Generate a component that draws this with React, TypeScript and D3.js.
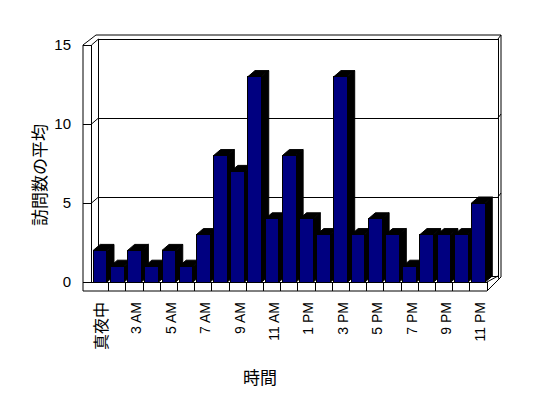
import React from 'react';
import * as d3 from 'd3';

// 時間帯 (2 AM はデータなし)
const hours = [
  '真夜中', '1 AM', '3 AM', '4 AM', '5 AM', '6 AM', '7 AM', '8 AM', '9 AM', '10 AM', '11 AM', '12 PM',
  '1 PM', '2 PM', '3 PM', '4 PM', '5 PM', '6 PM', '7 PM', '8 PM', '9 PM', '10 PM', '11 PM',
];
const visits = [2, 1, 2, 1, 2, 1, 3, 8, 7, 13, 4, 8, 4, 3, 13, 3, 4, 3, 1, 3, 3, 3, 5];
const yTicks = [0, 5, 10, 15];

const W = 548, H = 398;
const front = { left: 91.5, right: 487, base: 282 };
const back = { left: 98.5, right: 498, base: 276, top: 39 };
const barDepth = { dx: 7, dy: -6 };

export default function App() {
  const x = d3.scaleBand<string>()
    .domain(hours)
    .range([front.left, front.right])
    .paddingInner(0.2)
    .paddingOuter(0.1);
  const step = x.step();
  const yF = d3.scaleLinear().domain([0, 15]).range([front.base, front.base - 15 * 15.8]);
  const yB = d3.scaleLinear().domain([0, 15]).range([back.base, back.top]);

  const labelFont = '"Liberation Sans", Arial, sans-serif';
  const jpFont = '"Noto Sans CJK JP", sans-serif';
  const isJp = (s: string) => /[^\x00-\x7f]/.test(s);

  const frontTop = yF(15);
  const outline = [
    [83, frontTop], [96, 35], [501, 35], [501, 277], [499, 279], [487, 291], [83, 291],
  ].map(p => p.join(',')).join(' ');

  return (
    <>
      <style>{`body{margin:0}`}</style>
      <svg width={W} height={H} style={{ display: 'block', background: '#fff' }}>
        <g stroke="#000" strokeWidth={1}>
          {/* walls */}
          <polygon points={outline} fill="#fff" />
          <rect x={back.left} y={back.top} width={back.right - back.left} height={back.base - back.top}
            fill="#fff" shapeRendering="crispEdges" />
          <line x1={front.left} y1={frontTop} x2={front.left} y2={front.base} shapeRendering="crispEdges" />
          <line x1={front.left} y1={frontTop} x2={back.left} y2={back.top} />
          <line x1={back.right} y1={back.top} x2={501} y2={35} />
          <line x1={front.left} y1={front.base} x2={front.right} y2={front.base} shapeRendering="crispEdges" />
          <line x1={front.right} y1={front.base} x2={back.right} y2={back.base} />
          <line x1={front.right} y1={front.base} x2={front.right} y2={291} shapeRendering="crispEdges" />
          <line x1={back.right} y1={back.base} x2={499} y2={279} />
          {hours.slice(1).map((h, i) => {
            const xx = front.left + (i + 1) * step;
            return <line key={h} x1={xx} y1={front.base} x2={xx} y2={291} shapeRendering="crispEdges" />;
          })}

          {/* grid + ticks */}
          {yTicks.map(t => (
            <g key={t}>
              {t > 0 && t < 15 && (
                <>
                  <line x1={back.left} y1={yB(t)} x2={back.right} y2={yB(t)} shapeRendering="crispEdges" />
                  <line x1={front.left} y1={yF(t)} x2={back.left} y2={yB(t)} />
                  <line x1={back.right} y1={yB(t)} x2={501} y2={yB(t) - 4} />
                </>
              )}
              <line x1={83} y1={yF(t)} x2={front.left} y2={yF(t)} shapeRendering="crispEdges" />
            </g>
          ))}

          {/* bars */}
          {visits.map((v, i) => {
            const x0 = x(hours[i])!;
            const x1 = x0 + x.bandwidth();
            const y0 = yF(0);
            const y1 = yF(v);
            const { dx, dy } = barDepth;
            const side = `${x1},${y1} ${x1 + dx},${y1 + dy} ${x1 + dx},${y0 + dy} ${x1},${y0}`;
            const top = `${x0},${y1} ${x0 + dx},${y1 + dy} ${x1 + dx},${y1 + dy} ${x1},${y1}`;
            return (
              <g key={hours[i]}>
                <polygon points={side} fill="#000" />
                <polygon points={top} fill="#000" />
                <rect x={x0} y={y1} width={x1 - x0} height={y0 - y1} fill="#000080" shapeRendering="crispEdges" />
              </g>
            );
          })}
        </g>

        <g fill="#000">
          {yTicks.map(t => (
            <text key={t} x={71} y={yF(t) - 1} textAnchor="end" dominantBaseline="central"
              fontFamily={labelFont} fontSize={15}>{t}</text>
          ))}

          {/* x labels */}
          {hours.map((h, i) => i % 2 === 0 && (
            <text key={h}
              transform={`translate(${x(h)! + x.bandwidth() / 2 + (isJp(h) ? 0 : 2)},302) rotate(-90)`}
              textAnchor="end" dominantBaseline="central"
              fontFamily={isJp(h) ? jpFont : labelFont} fontSize={isJp(h) ? 16 : 14}>{h}</text>
          ))}

          {/* axis titles */}
          <text x={260} y={376} textAnchor="middle" dominantBaseline="central"
            fontFamily={jpFont} fontSize={17}>時間</text>
          <text transform="translate(38,175) rotate(-90)" textAnchor="middle" dominantBaseline="central"
            fontFamily={jpFont} fontSize={17}>訪問数の平均</text>
        </g>
      </svg>
    </>
  );
}
